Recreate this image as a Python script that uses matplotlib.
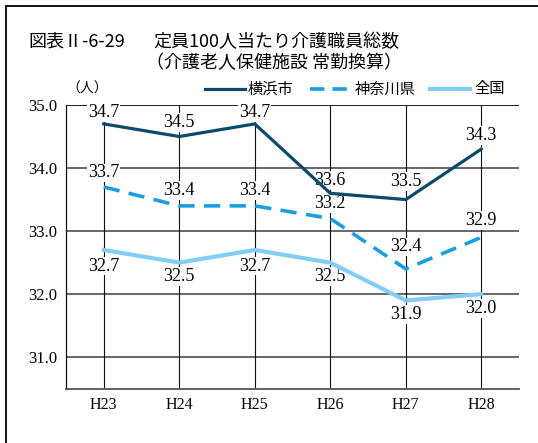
import matplotlib
matplotlib.use("Agg")
import matplotlib.pyplot as plt
from matplotlib.lines import Line2D
from matplotlib.patches import Rectangle

years = ["H23", "H24", "H25", "H26", "H27", "H28"]
yokohama = [34.7, 34.5, 34.7, 33.6, 33.5, 34.3]
kanagawa = [33.7, 33.4, 33.4, 33.2, 32.4, 32.9]
zenkoku = [32.7, 32.5, 32.7, 32.5, 31.9, 32.0]
yticks = [31.0, 32.0, 33.0, 34.0, 35.0]
series_names = ["横浜市", "神奈川県", "全国"]

NUM = ["Liberation Serif", "Noto Sans CJK JP"]
JP = ["Noto Sans CJK JP", "DejaVu Sans"]

W, H = 538, 443
fig = plt.figure(figsize=(W / 100, H / 100), dpi=100)
ax = fig.add_axes([66 / W, 1 - 388.7 / H, (519 - 66) / W, (388.7 - 105) / H])

c_yoko = "#0b4a6b"
c_kana = "#1a9ee0"
c_zen = "#82cdf3"

x = list(range(len(years)))
ax.plot(x, zenkoku, color=c_zen, lw=3.0, solid_joinstyle="miter", zorder=3)
ax.plot(x, kanagawa, color=c_kana, lw=2.6, dashes=(4.5, 2.6), zorder=4)
ax.plot(x, yokohama, color=c_yoko, lw=2.3, solid_joinstyle="miter", zorder=5)

# vertical label offsets in pixels (positive = above the point)
off_yoko = [11, 14, 11, 13, 18, 14]
off_kana = [14, 15, 15, 15, 22, 17]
off_zen = [-16, -14, -16, -14, -14, -14]

def label(vals, offs):
    for xi, v, o in zip(x, vals, offs):
        ax.annotate(f"{v:.1f}", (xi, v), xytext=(0, o * 0.72), textcoords="offset points",
                    ha="center", va="center", fontsize=13, family=NUM, zorder=2.5,
                    bbox=dict(boxstyle="square,pad=0.05", fc="white", ec="none"))

label(yokohama, off_yoko)
label(kanagawa, off_kana)
label(zenkoku, off_zen)

ax.set_xlim(-0.5, len(years) - 0.5)
ax.set_ylim(30.5, 35.0)
ax.set_yticks(yticks)
ax.set_yticklabels([f"{t:.1f}" for t in yticks], family=NUM, fontsize=12)
ax.set_xticks(x)
ax.set_xticklabels(years, family=NUM, fontsize=11.5)
ax.tick_params(length=0, pad=6)

for t in yticks:
    ax.axhline(t, color="#111111" if t == 35.0 else "#5a5a5a", lw=1.3, zorder=1)
for xi in x:
    ax.axvline(xi, color="#111111", lw=0.8, zorder=1)

for s in ["top", "right"]:
    ax.spines[s].set_visible(False)
ax.spines["left"].set_color("#111111")
ax.spines["left"].set_linewidth(0.9)
ax.spines["bottom"].set_color("#555555")
ax.spines["bottom"].set_linewidth(1.3)

# outer frame
fig.add_artist(Rectangle((6 / W, -0.2), 1.2, 1 - 6 / H + 0.2, transform=fig.transFigure,
                         fill=False, edgecolor="#111111", lw=1.4))

# titles
fig.text(28 / W, 1 - 42 / H, "図表Ⅱ-6-29", family=JP, fontsize=13, va="center", ha="left")
fig.text(153 / W, 1 - 42 / H, "定員100人当たり介護職員総数", family=JP, fontsize=13,
         va="center", ha="left")
fig.text(146 / W, 1 - 63 / H, "（介護老人保健施設 常勤換算）", family=JP, fontsize=13,
         va="center", ha="left")
fig.text(66 / W, 1 - 89 / H, "（人）", family=JP, fontsize=10, va="center", ha="left")

# legend
leg_y = 1 - 89 / H
items = [(205, 245, 248, c_yoko, "-", 2.3, series_names[0]),
         (310, 350, 355, c_kana, "--", 2.6, series_names[1]),
         (430, 470, 474, c_zen, "-", 3.0, series_names[2])]
for x0, x1, tx, col, ls, lw, name in items:
    ln = Line2D([x0 / W, x1 / W], [leg_y, leg_y], transform=fig.transFigure,
                color=col, lw=lw, linestyle=ls)
    if ls == "--":
        ln.set_dashes((4.0, 2.2))
    fig.add_artist(ln)
    fig.text(tx / W, leg_y, name, family=JP, fontsize=11, va="center", ha="left")

fig.savefig("out.png", dpi=100)
